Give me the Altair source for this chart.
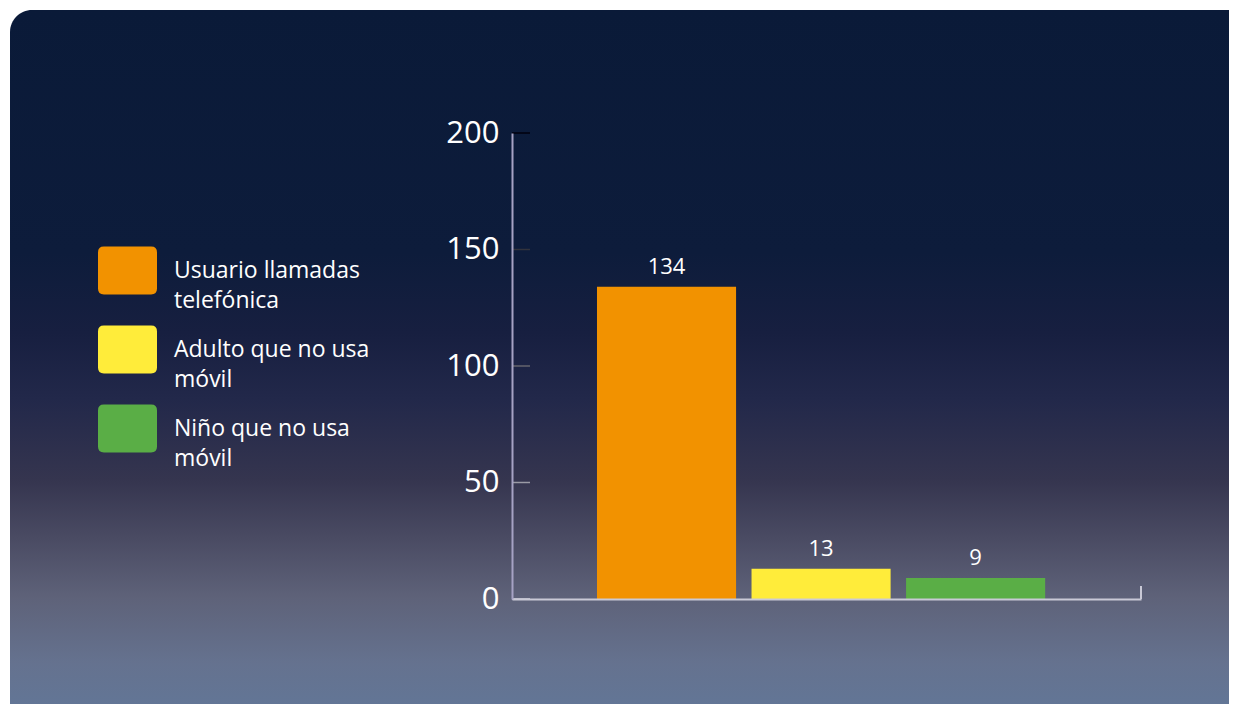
import altair as alt
import pandas as pd

# ---- data ----
categories = ["Usuario llamadas|telefónica", "Adulto que no usa|móvil", "Niño que no usa|móvil"]
values = [134, 13, 9]
colors = ["#f29200", "#ffec3a", "#5aae46"]
y_ticks = [0, 50, 100, 150, 200]

FONT = "Open Sans"
W, H = 629, 466
PAD = {"left": 504, "top": 125, "right": 88, "bottom": 105}

df = pd.DataFrame({"cat": categories, "val": values})
ticks_df = pd.DataFrame({"v": y_ticks})
bg_df = pd.DataFrame({"a": [0]})

gradient = {
    "gradient": "linear", "x1": 0, "y1": 0, "x2": 0, "y2": 1,
    "stops": [
        {"offset": 0.0, "color": "#0a1a38"},
        {"offset": 0.33, "color": "#0d1c3b"},
        {"offset": 0.44, "color": "#171f40"},
        {"offset": 0.53, "color": "#22284a"},
        {"offset": 0.64, "color": "#35354f"},
        {"offset": 0.72, "color": "#4a4b63"},
        {"offset": 0.80, "color": "#5e6279"},
        {"offset": 0.89, "color": "#65728f"},
        {"offset": 1.0, "color": "#60799c"},
    ],
}

background = alt.Chart(bg_df).mark_rect(color=gradient, cornerRadius=22).encode(
    x=alt.value(-PAD["left"] + 2), x2=alt.value(W + PAD["right"] + 40),
    y=alt.value(-PAD["top"] + 2), y2=alt.value(H + PAD["bottom"] + 40),
)

yscale = alt.Scale(domain=[0, 200])
xscale = alt.Scale(paddingInner=0.1, paddingOuter=0.585, align=0.47)

sym_path = ("M-0.8,-0.81 L0.8,-0.81 Q1,-0.81 1,-0.61 L1,0.61 Q1,0.81 0.8,0.81 "
            "L-0.8,0.81 Q-1,0.81 -1,0.61 L-1,-0.61 Q-1,-0.81 -0.8,-0.81 Z")

bars = alt.Chart(df).mark_bar().encode(
    x=alt.X("cat:N", sort=categories, scale=xscale,
            axis=alt.Axis(labels=False, ticks=False, title=None, domainColor="#c9c9d6",
                          domainWidth=2, zindex=1)),
    y=alt.Y("val:Q", scale=yscale,
            axis=alt.Axis(values=y_ticks, title=None, ticks=False, grid=False,
                          domainColor="#a6a2c4", domainWidth=2, labelColor="#ffffff",
                          labelFont=FONT, labelFontSize=31, labelPadding=13, zindex=1)),
    color=alt.Color("cat:N", scale=alt.Scale(domain=categories, range=colors),
                    legend=alt.Legend(orient="none", legendX=-414, legendY=108, title=None,
                                      symbolType=sym_path, symbolSize=3481,
                                      symbolStrokeWidth=0, symbolOpacity=1,
                                      labelExpr="split(datum.label, '|')",
                                      labelFont=FONT, labelFontSize=23, labelColor="#ffffff",
                                      labelOffset=17, labelLimit=400, rowPadding=7,
                                      padding=0, zindex=1)),
)

text = alt.Chart(df).mark_text(baseline="bottom", dy=-8, color="#ffffff", font=FONT,
                               fontSize=22).encode(
    x=alt.X("cat:N", sort=categories, scale=xscale),
    y=alt.Y("val:Q", scale=yscale),
    text="val:Q",
)

tick_rules = alt.Chart(ticks_df).mark_rule(strokeWidth=1.5).encode(
    y=alt.Y("v:Q", scale=yscale),
    x=alt.value(0), x2=alt.value(18),
    stroke=alt.Stroke("v:Q", scale=alt.Scale(domain=[0, 200], range=["#d4d4e0", "#000000"]),
                      legend=None),
)

end_tick = alt.Chart(bg_df).mark_rule(color="#c9c9d6", strokeWidth=2).encode(
    x=alt.value(W), y=alt.value(H - 13), y2=alt.value(H),
)

chart = alt.layer(background, bars, text, tick_rules, end_tick).properties(
    width=W, height=H, padding=PAD, autosize=alt.AutoSizeParams(type="none"),
    background="#ffffff",
).configure_view(stroke=None).configure(style={"guide-label": {"lineHeight": 30}})

chart.save("out.html", embed_options={"renderer": "svg", "actions": False})
